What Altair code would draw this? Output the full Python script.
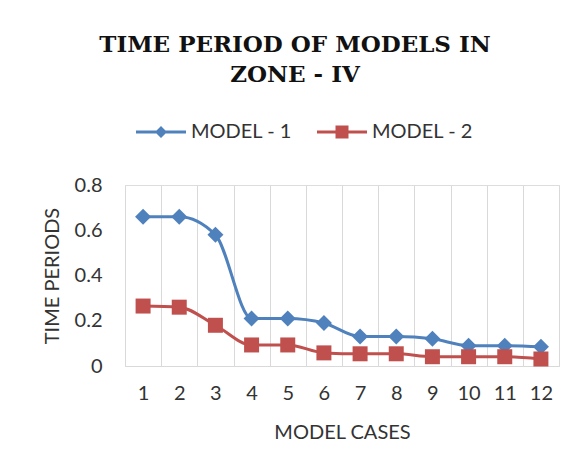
import altair as alt
import pandas as pd

cases = [str(i) for i in range(1, 13)]
model1 = [0.66, 0.66, 0.58, 0.21, 0.21, 0.19, 0.13, 0.13, 0.12, 0.09, 0.09, 0.085]
model2 = [0.265, 0.26, 0.18, 0.093, 0.093, 0.058, 0.054, 0.054, 0.041, 0.041, 0.041, 0.031]
series = ["MODEL - 1", "MODEL - 2"]
colors = ["#4F81BD", "#C0504D"]
y_ticks = [0, 0.2, 0.4, 0.6, 0.8]

rows = []
for c, v in zip(cases, model1):
    rows.append({"case": c, "value": v, "series": series[0]})
for c, v in zip(cases, model2):
    rows.append({"case": c, "value": v, "series": series[1]})
df = pd.DataFrame(rows)

FONT = "Lato"
TXT = "#333333"

x_enc = alt.X(
    "case:O",
    sort=cases,
    bandPosition=0.5,
    scale=alt.Scale(type="band", paddingInner=0, paddingOuter=0),
    axis=alt.Axis(
        title="MODEL CASES",
        labelAngle=0,
        ticks=False,
        tickBand="extent",
        grid=True,
        gridColor="#d9d9d9",
        gridWidth=1,
        domainColor="#d9d9d9",
        labelPadding=17,
        titlePadding=19,
        labelFontSize=20,
        titleFontSize=20,
        labelFont=FONT,
        titleFont=FONT,
        labelColor=TXT,
        titleColor=TXT,
        titleFontWeight="normal",
    ),
)
y_enc = alt.Y(
    "value:Q",
    scale=alt.Scale(domain=[0, 0.8], nice=False),
    axis=alt.Axis(
        title="TIME PERIODS",
        values=y_ticks,
        grid=False,
        domain=False,
        ticks=False,
        labelExpr="datum.value == 0 ? '0' : format(datum.value, '.1f')",
        labelPadding=23,
        titlePadding=12,
        labelFontSize=20,
        titleFontSize=20,
        labelFont=FONT,
        titleFont=FONT,
        labelColor=TXT,
        titleColor=TXT,
        titleFontWeight="normal",
    ),
)
color_scale = alt.Scale(domain=series, range=colors)

leg = alt.Legend(
    title=None, orient="none", direction="horizontal",
    legendX=11, legendY=-78,
    symbolSize=2500, symbolStrokeWidth=0,
    labelFont=FONT, labelFontSize=20, labelColor=TXT,
    labelOffset=5, columnPadding=25, padding=0,
)
color_enc = alt.Color("series:N", scale=color_scale, legend=leg)

base = alt.Chart(df)

lines = base.mark_line(strokeWidth=3, interpolate="monotone").encode(
    x=x_enc, y=y_enc, color=color_enc, detail="series:N",
)

pts1 = base.transform_filter(alt.datum.series == series[0]).mark_point(
    filled=True, shape="diamond", size=256, opacity=1
).encode(x=x_enc, y=y_enc, color=color_enc)

pts2 = base.transform_filter(alt.datum.series == series[1]).mark_point(
    filled=True, shape="square", size=225, opacity=1
).encode(x=x_enc, y=y_enc, color=color_enc)

path1 = "M-1,-0.06H-0.18L0,-0.24L0.18,-0.06H1V0.06H0.18L0,0.24L-0.18,0.06H-1Z"
path2 = "M-1,-0.06H-0.26V-0.26H0.26V-0.06H1V0.06H0.26V0.26H-0.26V0.06H-1Z"

legend_layer = base.transform_filter("false").mark_point(filled=True, opacity=1).encode(
    x=x_enc, y=y_enc,
    color=color_enc,
    shape=alt.Shape(
        "series:N",
        scale=alt.Scale(domain=series, range=[path1, path2]),
        legend=leg,
    ),
)

chart = alt.layer(lines, pts1, pts2, legend_layer).properties(
    width=434,
    height=181,
    autosize=alt.AutoSizeParams(type="none"),
    padding={"left": 117, "top": 177, "right": 10, "bottom": 90},
    title=alt.TitleParams(
        text=["TIME PERIOD OF MODELS IN", "ZONE - IV"],
        font="DejaVu Serif",
        fontSize=23,
        fontWeight="bold",
        color="#111111",
        anchor="middle",
        lineHeight=30,
        dx=-47,
        offset=20,
    ),
).configure_view(stroke=None).configure(background="white")

chart.save("out.html", embed_options={"renderer": "svg", "actions": False})
